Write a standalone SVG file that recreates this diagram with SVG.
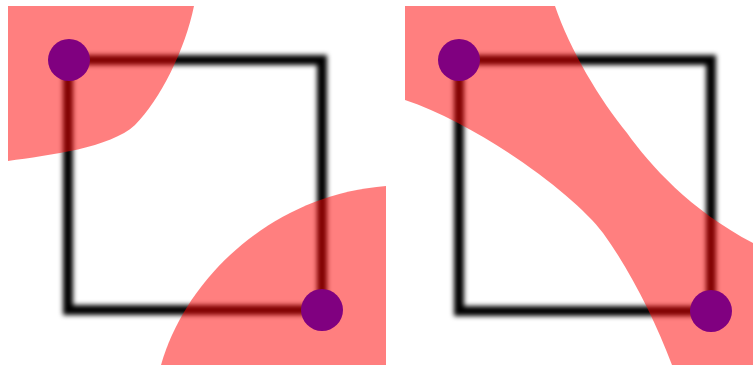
<svg xmlns="http://www.w3.org/2000/svg" width="754" height="370" viewBox="0 0 754 370">
  <defs>
    <filter id="blur" x="-10%" y="-10%" width="120%" height="120%">
      <feGaussianBlur stdDeviation="2.5"/>
    </filter>
  </defs>
  <style>
    .sq { fill: none; stroke: #000; stroke-width: 10; filter: url(#blur); }
    .region { fill: #ff0000; fill-opacity: 0.5; }
    .pt { fill: #800080; }
  </style>
  <rect width="754" height="370" fill="#fff"/>
  <g id="left-panel">
    <g id="left-square"><rect class="sq" x="68" y="60" width="254" height="250"/></g>
    <g id="left-regions">
      <path class="region" d="M8,6 L194,6 C185,50 160,100 135,125 C110,148 50,155 8,161 Z"/>
      <path class="region" d="M386,186 L386,365 L161,365 C185,280 270,195 386,186 Z"/>
    </g>
    <g id="left-p1"><circle class="pt" cx="69" cy="60" r="21"/></g>
    <g id="left-p2"><circle class="pt" cx="322" cy="310" r="21"/></g>
  </g>
  <g id="right-panel">
    <g id="right-square"><rect class="sq" x="459" y="60" width="252" height="251"/></g>
    <g id="right-region">
      <path class="region" d="M405,6 L555,6 C570,50 600,100 627,133 C650,165 690,210 753,243 L753,365 L672,365 C655,320 630,270 603,233 C575,195 480,125 405,100 Z"/>
    </g>
    <g id="right-p1"><circle class="pt" cx="459" cy="60" r="21"/></g>
    <g id="right-p2"><circle class="pt" cx="711" cy="311" r="21"/></g>
  </g>
</svg>
